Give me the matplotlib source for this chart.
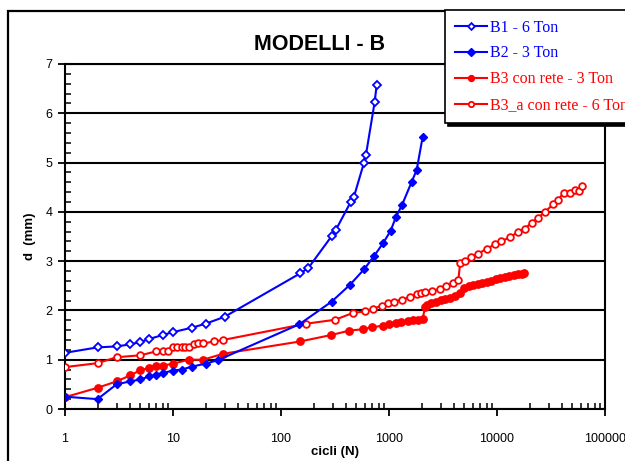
import matplotlib
matplotlib.use("Agg")
import matplotlib.pyplot as plt
from matplotlib.patches import Rectangle
from matplotlib.ticker import LogLocator, MultipleLocator, FixedLocator, FixedFormatter, NullFormatter

# ---------------- data ----------------
b1_n = [1, 2, 3, 4, 5, 6, 8, 10, 15, 20, 30, 150, 179, 295, 323, 442, 474, 587, 612, 737, 769]
b1_d = [1.14, 1.25, 1.27, 1.31, 1.36, 1.42, 1.50, 1.56, 1.65, 1.73, 1.87, 2.75, 2.86, 3.51, 3.64,
        4.20, 4.31, 5.00, 5.16, 6.23, 6.58]

b2_n = [1, 2, 3, 4, 5, 6, 7, 8, 10, 12, 15, 20, 26, 148, 295, 435, 591, 731, 885, 1037, 1161,
        1320, 1623, 1804, 2050]
b2_d = [0.25, 0.20, 0.50, 0.56, 0.60, 0.66, 0.69, 0.73, 0.78, 0.80, 0.86, 0.92, 0.99, 1.72, 2.18,
        2.52, 2.84, 3.11, 3.37, 3.62, 3.90, 4.14, 4.61, 4.85, 5.52]

b3_n = [1, 2, 3, 4, 5, 6, 7, 8, 10, 14, 19, 29, 150, 290, 430, 580, 700, 880, 1000, 1150, 1300,
        1500, 1680, 1850, 2050, 2150, 2250, 2450, 2700, 3000, 3300, 3700, 4100, 4500, 5000, 5500,
        6000, 6600, 7200, 8000, 8800, 9700, 10700, 11800, 13000, 14300, 15700, 17000, 17800]
b3_d = [0.24, 0.43, 0.56, 0.68, 0.79, 0.83, 0.88, 0.88, 0.92, 1.00, 1.00, 1.12, 1.37, 1.50, 1.59,
        1.62, 1.66, 1.69, 1.72, 1.74, 1.76, 1.78, 1.80, 1.81, 1.82, 2.06, 2.12, 2.15, 2.18, 2.21,
        2.23, 2.25, 2.30, 2.36, 2.45, 2.50, 2.52, 2.54, 2.56, 2.58, 2.60, 2.63, 2.65, 2.67, 2.69,
        2.71, 2.73, 2.74, 2.76]

b3a_n = [1, 2, 3, 5, 7, 8, 9, 10, 11, 12, 13, 14, 15.5, 17, 19, 24, 29, 170, 316, 465, 600, 715,
         855, 980, 1120, 1310, 1570, 1800, 1990, 2150, 2500, 2960, 3400, 3940, 4380, 4560, 5050,
         5800, 6680, 8000, 9580, 11000, 13200, 15700, 18100, 20900, 24000, 27800, 33000, 37000,
         41500, 47000, 52800, 57000, 61600]
b3a_d = [0.85, 0.93, 1.05, 1.09, 1.17, 1.17, 1.17, 1.25, 1.25, 1.25, 1.26, 1.26, 1.32, 1.33, 1.33,
         1.37, 1.40, 1.73, 1.81, 1.95, 1.98, 2.03, 2.10, 2.15, 2.18, 2.22, 2.27, 2.33, 2.35, 2.37,
         2.39, 2.44, 2.49, 2.56, 2.61, 2.96, 3.00, 3.09, 3.15, 3.25, 3.34, 3.40, 3.49, 3.59, 3.66,
         3.78, 3.88, 4.00, 4.15, 4.25, 4.39, 4.38, 4.44, 4.42, 4.52]

labels = ["B1 - 6 Ton", "B2 - 3 Ton", "B3 con rete - 3 Ton", "B3_a con rete - 6 Ton"]
x_ticks = [1, 10, 100, 1000, 10000, 100000]
x_ticklabels = ["1", "10", "100", "1000", "10000", "100000"]
y_ticks = [0, 1, 2, 3, 4, 5, 6, 7]

# ---------------- figure ----------------
W, H = 625, 461
fig = plt.figure(figsize=(W / 100, H / 100), dpi=100)
plt.rcParams['font.family'] = ['Liberation Sans', 'DejaVu Sans']

# outer chart border
fig.patches.append(Rectangle((8 / W, -0.2), 1.5, 1 - 11 / H + 0.2, transform=fig.transFigure,
                             fill=False, edgecolor='black', linewidth=1.6, zorder=0))

ax = fig.add_axes([65 / W, 1 - 409 / H, (605 - 65) / W, (409 - 64) / H])
ax.set_facecolor('white')

blue = '#0000FF'
red = '#FF0000'
lw = 1.5
ax.plot(b1_n, b1_d, color=blue, lw=lw, marker='D', ms=4.3, mfc='white', mec=blue, mew=1.3,
        label=labels[0], zorder=5)
ax.plot(b2_n, b2_d, color=blue, lw=lw, marker='D', ms=4.5, mfc=blue, mec=blue, mew=1.0,
        label=labels[1], zorder=5)
ax.plot(b3_n, b3_d, color=red, lw=lw, marker='o', ms=5.3, mfc=red, mec=red, mew=1.0,
        label=labels[2], zorder=4)
ax.plot(b3a_n, b3a_d, color=red, lw=lw, marker='o', ms=4.8, mfc='white', mec=red, mew=1.3,
        label=labels[3], zorder=4)

ax.set_xscale('log')
ax.set_xlim(1, 100000)
ax.set_ylim(0, 7)
ax.xaxis.set_major_locator(FixedLocator(x_ticks))
ax.xaxis.set_major_formatter(FixedFormatter(x_ticklabels))
ax.xaxis.set_minor_locator(LogLocator(base=10, subs=range(2, 10), numticks=20))
ax.xaxis.set_minor_formatter(NullFormatter())
ax.yaxis.set_major_locator(FixedLocator(y_ticks))
ax.yaxis.set_minor_locator(MultipleLocator(0.2))

ax.grid(axis='y', which='major', color='black', lw=1.5)
ax.set_axisbelow(True)
for s in ax.spines.values():
    s.set_linewidth(1.5)
    s.set_color('black')

ax.tick_params(which='major', direction='out', length=5, width=1.3, labelsize=9, colors='black')
ax.tick_params(which='minor', direction='in', length=4, width=1.1)
ax.tick_params(axis='x', which='major', pad=12)
ax.tick_params(axis='y', which='major', pad=4)

ax.set_xlabel("cicli (N)", fontsize=9.5, fontweight='bold', labelpad=1)
ax.set_ylabel("d  (mm)", fontsize=9.5, fontweight='bold', labelpad=7)

fig.text(320 / W, 1 - 45 / H, "MODELLI - B", ha='center', va='center', fontsize=15.5,
         fontweight='bold')

leg = fig.legend(loc='upper left', bbox_to_anchor=(445 / W, 1 - 10 / H), borderaxespad=0,
                 frameon=True, fancybox=False, shadow={'color': 'black', 'alpha': 1},
                 prop={'family': 'Liberation Serif', 'size': 11.5}, handlelength=2.0,
                 handletextpad=0.2, labelspacing=0.62, borderpad=0.6, markerscale=0.8)
leg.get_frame().set_edgecolor('black')
leg.get_frame().set_linewidth(1.2)
for txt, c in zip(leg.get_texts(), [blue, blue, red, red]):
    txt.set_color(c)

fig.savefig("out.png", dpi=100)
